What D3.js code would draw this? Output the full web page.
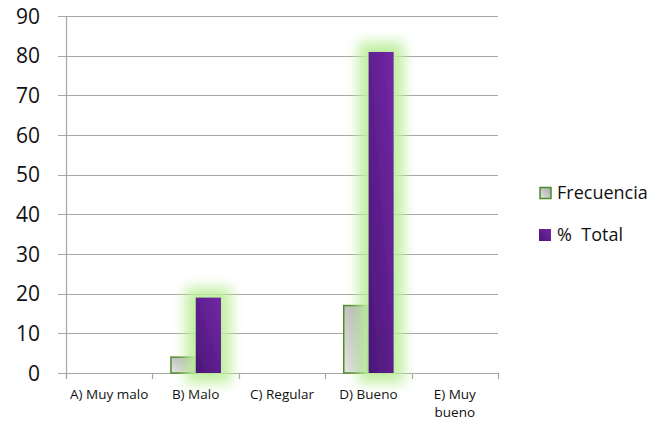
<!DOCTYPE html>
<html><head><meta charset="utf-8">
<script src="https://cdn.jsdelivr.net/npm/d3@7"></script>
<style>body{margin:0;background:#fff}svg{display:block}</style>
</head><body>
<script>
const categories = ["A) Muy malo", "B) Malo", "C) Regular", "D) Bueno", "E) Muy bueno"];
const seriesNames = ["Frecuencia", "%  Total"];
const frecuencia = [0, 4, 0, 17, 0];
const total = [0, 19.05, 0, 80.95, 0];
const yTicks = [0, 10, 20, 30, 40, 50, 60, 70, 80, 90];

const W = 669, H = 423;
const m = {left: 66, right: 171, top: 16, bottom: 50};
const svg = d3.select("body").append("svg").attr("width", W).attr("height", H);
const font = "Open Sans, Liberation Sans, sans-serif";

const defs = svg.append("defs");
const g1 = defs.append("linearGradient").attr("id", "gf").attr("x1", 0).attr("y1", 1).attr("x2", 1).attr("y2", 0);
g1.append("stop").attr("offset", 0).attr("stop-color", "#e6e6e6");
g1.append("stop").attr("offset", 1).attr("stop-color", "#a6a6a6");
const g2 = defs.append("linearGradient").attr("id", "gp").attr("x1", 0).attr("y1", 1).attr("x2", 1).attr("y2", 0);
g2.append("stop").attr("offset", 0).attr("stop-color", "#4a1677");
g2.append("stop").attr("offset", 1).attr("stop-color", "#7428a6");
const glow = defs.append("filter").attr("id", "glow").attr("x", "-200%").attr("y", "-100%").attr("width", "500%").attr("height", "300%");
glow.append("feMorphology").attr("in", "SourceAlpha").attr("operator", "dilate").attr("radius", 10).attr("result", "d");
glow.append("feGaussianBlur").attr("in", "d").attr("stdDeviation", 6.5).attr("result", "b");
glow.append("feFlood").attr("flood-color", "#bdee9c").attr("flood-opacity", 0.95);
glow.append("feComposite").attr("in2", "b").attr("operator", "in").attr("result", "gl");
const mg = glow.append("feMerge");
mg.append("feMergeNode").attr("in", "gl");
mg.append("feMergeNode").attr("in", "SourceGraphic");

const x = d3.scaleBand().domain(categories).range([m.left, W - m.right]).paddingInner(0).paddingOuter(0);
const y = d3.scaleLinear().domain([0, 90]).range([H - m.bottom, m.top]);
const x1 = d3.scaleBand().domain(seriesNames).range([0, x.bandwidth()]).paddingInner(0).paddingOuter(0.7);

// gridlines
svg.append("g").selectAll("line").data(yTicks).join("line")
  .attr("x1", m.left - 8).attr("x2", W - m.right)
  .attr("y1", d => Math.round(y(d)) + 0.5).attr("y2", d => Math.round(y(d)) + 0.5)
  .attr("stroke", "#a6a6a6").attr("stroke-width", 1.2);

// y axis line
svg.append("line").attr("x1", m.left + 0.5).attr("x2", m.left + 0.5)
  .attr("y1", y(90)).attr("y2", y(0) + 6).attr("stroke", "#a6a6a6").attr("stroke-width", 1.2);

// x ticks
const edges = categories.map(c => x(c)).concat([x(categories[categories.length - 1]) + x.bandwidth()]);
svg.append("g").selectAll("line").data(edges).join("line")
  .attr("x1", d => Math.round(d) + 0.5).attr("x2", d => Math.round(d) + 0.5)
  .attr("y1", y(0)).attr("y2", y(0) + 6).attr("stroke", "#a6a6a6").attr("stroke-width", 1.2);

// y labels
svg.append("g").selectAll("text").data(yTicks).join("text")
  .attr("x", 40).attr("y", d => y(d)).attr("dy", "0.36em")
  .attr("text-anchor", "end").attr("font-family", font).attr("font-size", 21).attr("fill", "#111")
  .text(d => d);

// x labels
const xl = svg.append("g").selectAll("text").data(categories).join("text")
  .attr("x", d => x(d) + x.bandwidth() / 2).attr("y", y(0) + 26)
  .attr("text-anchor", "middle").attr("font-family", font).attr("font-size", 13.5).attr("fill", "#111");
xl.each(function(d) {
  const t = d3.select(this);
  if (d === "E) Muy bueno") {
    t.append("tspan").attr("x", x(d) + x.bandwidth() / 2).text("E) Muy");
    t.append("tspan").attr("x", x(d) + x.bandwidth() / 2).attr("dy", 18).text("bueno");
  } else t.text(d);
});

// bars
const rows = categories.map((c, i) => ({c, f: frecuencia[i], t: total[i]}));
const grp = svg.append("g").selectAll("g").data(rows).join("g").attr("transform", d => `translate(${x(d.c)},0)`);
grp.filter(d => d.f > 0).append("rect")
  .attr("x", x1(seriesNames[0]) + 0.75).attr("width", x1.bandwidth() - 1.5)
  .attr("y", d => y(d.f)).attr("height", d => y(0) - y(d.f))
  .attr("fill", "url(#gf)").attr("stroke", "#4e8a2a").attr("stroke-width", 1.5);
grp.filter(d => d.t > 0).append("rect")
  .attr("x", x1(seriesNames[1])).attr("width", x1.bandwidth())
  .attr("y", d => y(d.t)).attr("height", d => y(0) - y(d.t))
  .attr("fill", "url(#gp)").attr("filter", "url(#glow)");

// legend
const lg = svg.append("g").attr("font-family", font).attr("font-size", 18).attr("fill", "#111");
const ly = [193, 235];
lg.append("rect").attr("x", 540).attr("y", ly[0] - 5.5).attr("width", 11).attr("height", 11)
  .attr("fill", "url(#gf)").attr("stroke", "#4e8a2a").attr("stroke-width", 1.5);
lg.append("rect").attr("x", 539).attr("y", ly[1] - 6).attr("width", 12).attr("height", 12).attr("fill", "url(#gp)");
lg.selectAll("text").data(seriesNames).join("text")
  .attr("x", 557).attr("y", (d, i) => ly[i]).attr("dy", "0.36em").attr("xml:space", "preserve")
  .style("white-space", "pre").text(d => d);
</script>
</body></html>
